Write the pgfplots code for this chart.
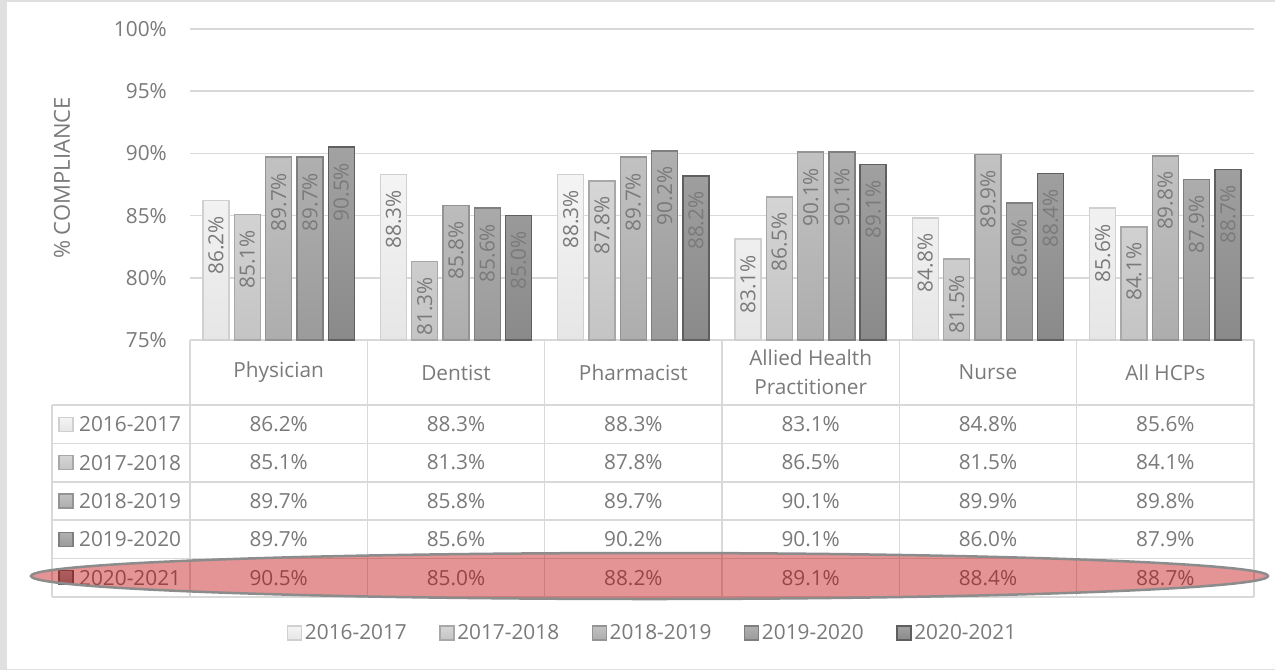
\documentclass[border=0pt]{standalone}
\usepackage{pgfplots}
\pgfplotsset{compat=1.18}
\usepackage{pgfplotstable}
\usepackage{fontspec}
\setmainfont{Open Sans}

\definecolor{txt}{HTML}{7A7A7A}
\definecolor{gridc}{HTML}{D9D9D9}
\definecolor{framec}{HTML}{E0E0E0}
\definecolor{hl}{HTML}{C00000}
\definecolor{hlborder}{HTML}{8C8C8C}
% series colours: top, bottom, border
\definecolor{sAt}{HTML}{F4F4F4}\definecolor{sAb}{HTML}{E6E6E6}\definecolor{sAd}{HTML}{D0D0D0}
\definecolor{sBt}{HTML}{D6D6D6}\definecolor{sBb}{HTML}{C4C4C4}\definecolor{sBd}{HTML}{A8A8A8}
\definecolor{sCt}{HTML}{C2C2C2}\definecolor{sCb}{HTML}{ADADAD}\definecolor{sCd}{HTML}{949494}
\definecolor{sDt}{HTML}{B0B0B0}\definecolor{sDb}{HTML}{9B9B9B}\definecolor{sDd}{HTML}{7F7F7F}
\definecolor{sEt}{HTML}{A2A2A2}\definecolor{sEb}{HTML}{8A8A8A}\definecolor{sEd}{HTML}{5F5F5F}

\newcommand\chartfont{\fontsize{20.8}{29}\selectfont}

% % compliance by profession (rows) and year (columns)
\pgfplotstableread{
x a    b    c    d    e
0 86.2 85.1 89.7 89.7 90.5
1 88.3 81.3 85.8 85.6 85.0
2 88.3 87.8 89.7 90.2 88.2
3 83.1 86.5 90.1 90.1 89.1
4 84.8 81.5 89.9 86.0 88.4
5 85.6 84.1 89.8 87.9 88.7
}\compliance

\begin{document}
\begin{tikzpicture}[x=1pt,y=1pt]
\useasboundingbox (0,0) rectangle (1275,-670);
\fill[framec] (0,0) rectangle (1275,-670);
\fill[white] (7,-1.5) rectangle (1275,-668.5);

\begin{axis}[
    at={(190pt,-340pt)}, anchor=south west,
    scale only axis, width=1064pt, height=311pt,
    xmin=-0.5, xmax=5.5, ymin=75, ymax=100,
    xtick=\empty, ytick={75,80,...,100},
    yticklabel={\pgfmathprintnumber{\tick}\%},
    /pgf/number format/assume math mode=true,
    yticklabel style={font=\chartfont, text=txt, anchor=east, inner sep=0pt, xshift=-23pt},
    major tick length=0pt,
    axis line style={draw=none},
    ymajorgrids, grid style={gridc, line width=1.5pt},
    ylabel={\% COMPLIANCE},
    ylabel style={font=\fontsize{22}{26}\selectfont, text=txt, at={(axis description cs:-0.1203,0.521)}, anchor=center},
    ybar=5.3pt, bar width=26pt,
    nodes near coords={\pgfmathprintnumber[fixed,fixed zerofill,precision=1]{\pgfplotspointmeta}\%},
    every node near coord/.append style={font=\chartfont, text=txt, yshift=-15pt, rotate=90, anchor=east, inner sep=0pt},
    legend columns=5,
    legend cell align=left,
    legend style={at={(axis description cs:0.435,-0.942)}, anchor=center, draw=none, fill=none,
        font=\chartfont, text=txt, nodes={inner sep=2.5pt},
        /tikz/every even column/.append style={column sep=30pt}},
    legend image code/.code={\draw[#1] (0pt,-7pt) rectangle (14pt,7pt);},
]
\addplot[draw=sAd, line width=1.5pt, top color=sAt, bottom color=sAb] table[x=x, y=a] {\compliance};
\addlegendentry{2016-2017}
\addplot[draw=sBd, line width=1.5pt, top color=sBt, bottom color=sBb] table[x=x, y=b] {\compliance};
\addlegendentry{2017-2018}
\addplot[draw=sCd, line width=1.5pt, top color=sCt, bottom color=sCb] table[x=x, y=c] {\compliance};
\addlegendentry{2018-2019}
\addplot[draw=sDd, line width=1.5pt, top color=sDt, bottom color=sDb] table[x=x, y=d] {\compliance};
\addlegendentry{2019-2020}
\addplot[draw=sEd, line width=1.5pt, top color=sEt, bottom color=sEb] table[x=x, y=e] {\compliance};
\addlegendentry{2020-2021}
\end{axis}

% data table under the chart
\foreach \k in {0,...,6}
  \draw[gridc, line width=1.5pt] ({190+177.333*\k},-340) -- ({190+177.333*\k},-597);
\draw[gridc, line width=1.5pt] (52,-405) -- (52,-597);
\foreach \j in {0,...,5}
  \draw[gridc, line width=1.5pt] (52,{-405-38.4*\j}) -- (1254,{-405-38.4*\j});

\foreach \name [count=\i from 0] in {Physician,Dentist,Pharmacist,{Allied Health\\Practitioner},Nurse,All HCPs}
  \node[font=\chartfont, text=txt, align=center] at ({278.67+177.333*\i},-372.5) {\name};

\foreach \lab/\tc/\bc/\dc [count=\j from 0] in
  {2016-2017/sAt/sAb/sAd, 2017-2018/sBt/sBb/sBd, 2018-2019/sCt/sCb/sCd,
   2019-2020/sDt/sDb/sDd, 2020-2021/sEt/sEb/sEd} {
  \draw[draw=\dc, top color=\tc, bottom color=\bc, line width=1.2pt]
    (59,{-424.2-38.4*\j-7}) rectangle (73,{-424.2-38.4*\j+7});
  \node[font=\chartfont, text=txt, anchor=west, inner sep=0pt] at (79,{-424.2-38.4*\j}) {\lab};
}

\foreach \r in {0,...,5} {
  \foreach \col [count=\c from 0] in {a,b,c,d,e} {
    \pgfplotstablegetelem{\r}{\col}\of\compliance
    \node[font=\chartfont, text=txt] at ({278.67+177.333*\r},{-424.2-38.4*\c})
      {\pgfmathprintnumber[fixed,fixed zerofill,precision=1,assume math mode=true]{\pgfplotsretval}\%};
  }
}

% highlight of the latest year
\draw[hlborder, line width=2.5pt, fill=hl, fill opacity=0.42] (649.5,-576) ellipse [x radius=618.5, y radius=23];
\end{tikzpicture}
\end{document}
